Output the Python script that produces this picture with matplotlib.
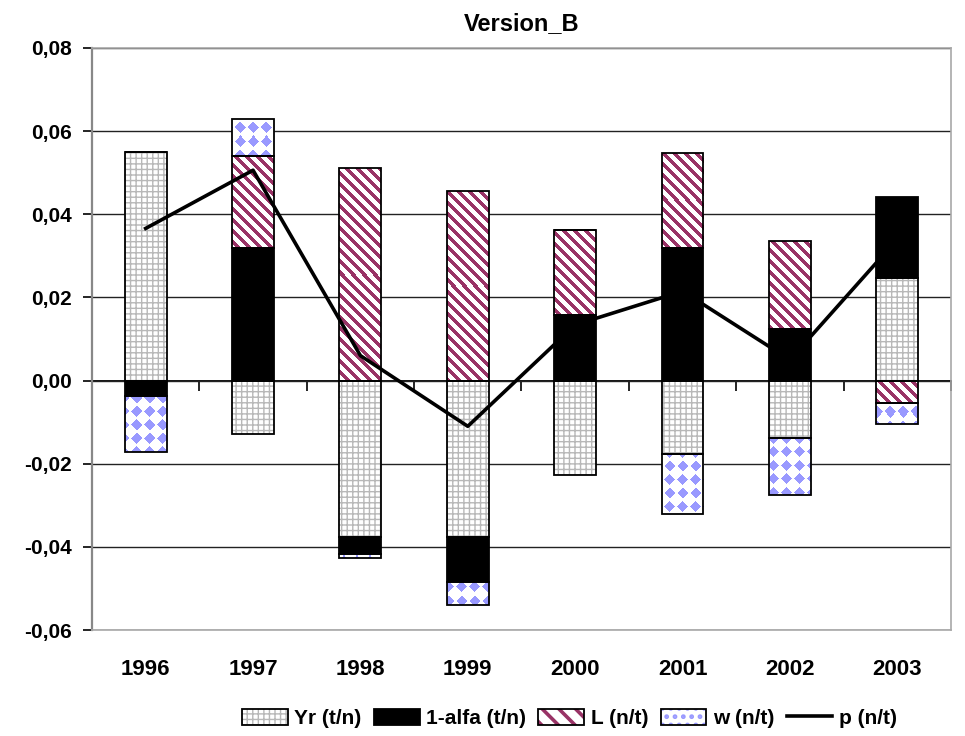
import matplotlib
matplotlib.use("Agg")
import matplotlib.pyplot as plt
import matplotlib.patches as mpatches
import numpy as np

years = ["1996", "1997", "1998", "1999", "2000", "2001", "2002", "2003"]
yr = [0.0550, -0.0128, -0.0377, -0.0376, -0.0227, -0.0176, -0.0139, 0.0246]
alfa = [-0.0036, 0.0319, -0.0039, -0.0108, 0.0157, 0.0319, 0.0123, 0.0196]
L = [0.0, 0.0221, 0.0511, 0.0455, 0.0204, 0.0229, 0.0213, -0.0055]
w = [-0.0137, 0.0089, -0.0010, -0.0056, 0.0, -0.0144, -0.0136, -0.0049]
p = [0.0366, 0.0506, 0.0060, -0.0110, 0.0134, 0.0215, 0.0050, 0.0340]

labels = ["Yr (t/n)", "1-alfa (t/n)", "L (n/t)", "w (n/t)", "p (n/t)"]
yticks = [-0.06, -0.04, -0.02, 0.0, 0.02, 0.04, 0.06, 0.08]

plt.rcParams['font.family'] = ['Liberation Sans', 'DejaVu Sans']
plt.rcParams['font.weight'] = 'bold'

PLUM = "#993366"
LBLUE = "#9999ff"
GRIDGREY = "#b8b8b8"

fig = plt.figure(figsize=(9.65, 7.36), dpi=100)
ax = fig.add_axes([0.0953, 0.144, 0.8902, 0.7908])
ax.set_xlim(-0.5, len(years) - 0.5)
ax.set_ylim(-0.06, 0.08)

x = np.arange(len(years))
width = 0.39


def add_texture(patch, kind):
    # paint a pixel pattern inside one bar segment
    x0, x1 = patch.get_x(), patch.get_x() + patch.get_width()
    y0 = min(patch.get_y(), patch.get_y() + patch.get_height())
    y1 = max(patch.get_y(), patch.get_y() + patch.get_height())
    (a0, b0), (a1, b1) = ax.transData.transform([(x0, y0), (x1, y1)])
    W, H = int(round(a1 - a0)), int(round(b1 - b0))
    if W < 1 or H < 1:
        return
    fig_h = fig.bbox.height
    X, Y = np.meshgrid(a0 + np.arange(W) + 0.5, fig_h - (b1 - np.arange(H) - 0.5))
    img = np.ones((H, W, 3))
    if kind == "stripes":
        mask = ((X - Y) % 11.0) < 5.0
        img[mask] = matplotlib.colors.to_rgb(PLUM)
    else:
        gx = (X % 13.0) - 6.5
        gy = (Y % 13.5) - 6.75
        mask = (np.abs(gx) + np.abs(gy)) < 5.6
        img[mask] = matplotlib.colors.to_rgb(LBLUE)
    im = ax.imshow(img, extent=(x0, x1, y0, y1), origin="upper", aspect="auto",
                   interpolation="nearest", zorder=2.5)
    im.set_clip_path(patch)


# series style: (face, hatch, hatch colour, texture)
styles = [
    ("white", "+++", GRIDGREY, None),
    ("black", None, "black", None),
    ("white", None, "white", "stripes"),
    ("white", None, "white", "diamonds"),
]

pos_bottom = np.zeros(len(x))
neg_bottom = np.zeros(len(x))
for vals, (face, hatch, hcol, tex) in zip([yr, alfa, L, w], styles):
    vals = np.array(vals)
    bottom = np.where(vals >= 0, pos_bottom, neg_bottom)
    b1 = ax.bar(x, vals, width, bottom=bottom, color=face, hatch=hatch,
                edgecolor=hcol, linewidth=0, zorder=2)
    ax.bar(x, vals, width, bottom=bottom, fill=False,
           edgecolor="black", linewidth=1.3, zorder=3)
    if tex:
        for patch in b1.patches:
            add_texture(patch, tex)
    pos_bottom = pos_bottom + np.where(vals > 0, vals, 0)
    neg_bottom = neg_bottom + np.where(vals < 0, vals, 0)

line, = ax.plot(x, p, color="black", linewidth=2.6, zorder=4)

ax.set_xlim(-0.5, len(years) - 0.5)
ax.set_ylim(-0.06, 0.08)
ax.set_yticks(yticks)
ax.set_yticklabels([f"{v:.2f}".replace(".", ",") for v in yticks], fontsize=15)
ax.set_xticks(x)
ax.set_xticklabels(years, fontsize=16)
ax.tick_params(axis='x', length=0, pad=21)
ax.tick_params(axis='y', length=6.5, width=1.2, direction='out', pad=8)

ax.grid(axis='y', color="#222222", linewidth=1.0, zorder=0)
ax.set_axisbelow(True)
for s in ["top", "right", "bottom"]:
    ax.spines[s].set_color("#a8a8a8")
    ax.spines[s].set_linewidth(1.2)
ax.spines["left"].set_color("#888888")
ax.spines["left"].set_linewidth(1.6)

# category axis crossing at zero
zero = (0 - (-0.06)) / 0.14
sec = ax.secondary_xaxis(zero)
sec.set_xticks(np.arange(len(years) + 1) - 0.5)
sec.set_xticklabels([])
sec.tick_params(axis='x', direction='out', length=7, width=1.2)
sec.spines['bottom'].set_linewidth(1.3)
sec.spines['bottom'].set_color('black')

ax.set_title("Version_B", fontsize=17, fontweight='bold', pad=13)


def proxy(face, hatch, hcol):
    h = mpatches.Rectangle((0, 0), 1, 1, facecolor=face, hatch=hatch,
                           edgecolor=hcol, linewidth=0)
    o = mpatches.Rectangle((0, 0), 1, 1, fill=False, edgecolor="black", linewidth=1.3)
    return (h, o)


handles = [
    proxy("white", "+++", GRIDGREY),
    proxy("black", None, "black"),
    proxy("white", "\\\\", PLUM),
    proxy("white", "..", LBLUE),
    line,
]

leg = fig.legend(handles, labels, loc="center", bbox_to_anchor=(0.59, 0.024), ncol=5,
                 frameon=False, fontsize=15, handlelength=2.2, handleheight=0.8,
                 handletextpad=0.3, columnspacing=0.6)

# thicker hatch strokes for the striped and dotted legend keys
for art, hlw in zip(leg.legend_handles[2:4], [2.6, 2.2]):
    if hasattr(art, "set_hatch_linewidth"):
        art.set_hatch_linewidth(hlw)
    else:
        art._hatch_linewidth = hlw

fig.savefig("out.png", dpi=100)
